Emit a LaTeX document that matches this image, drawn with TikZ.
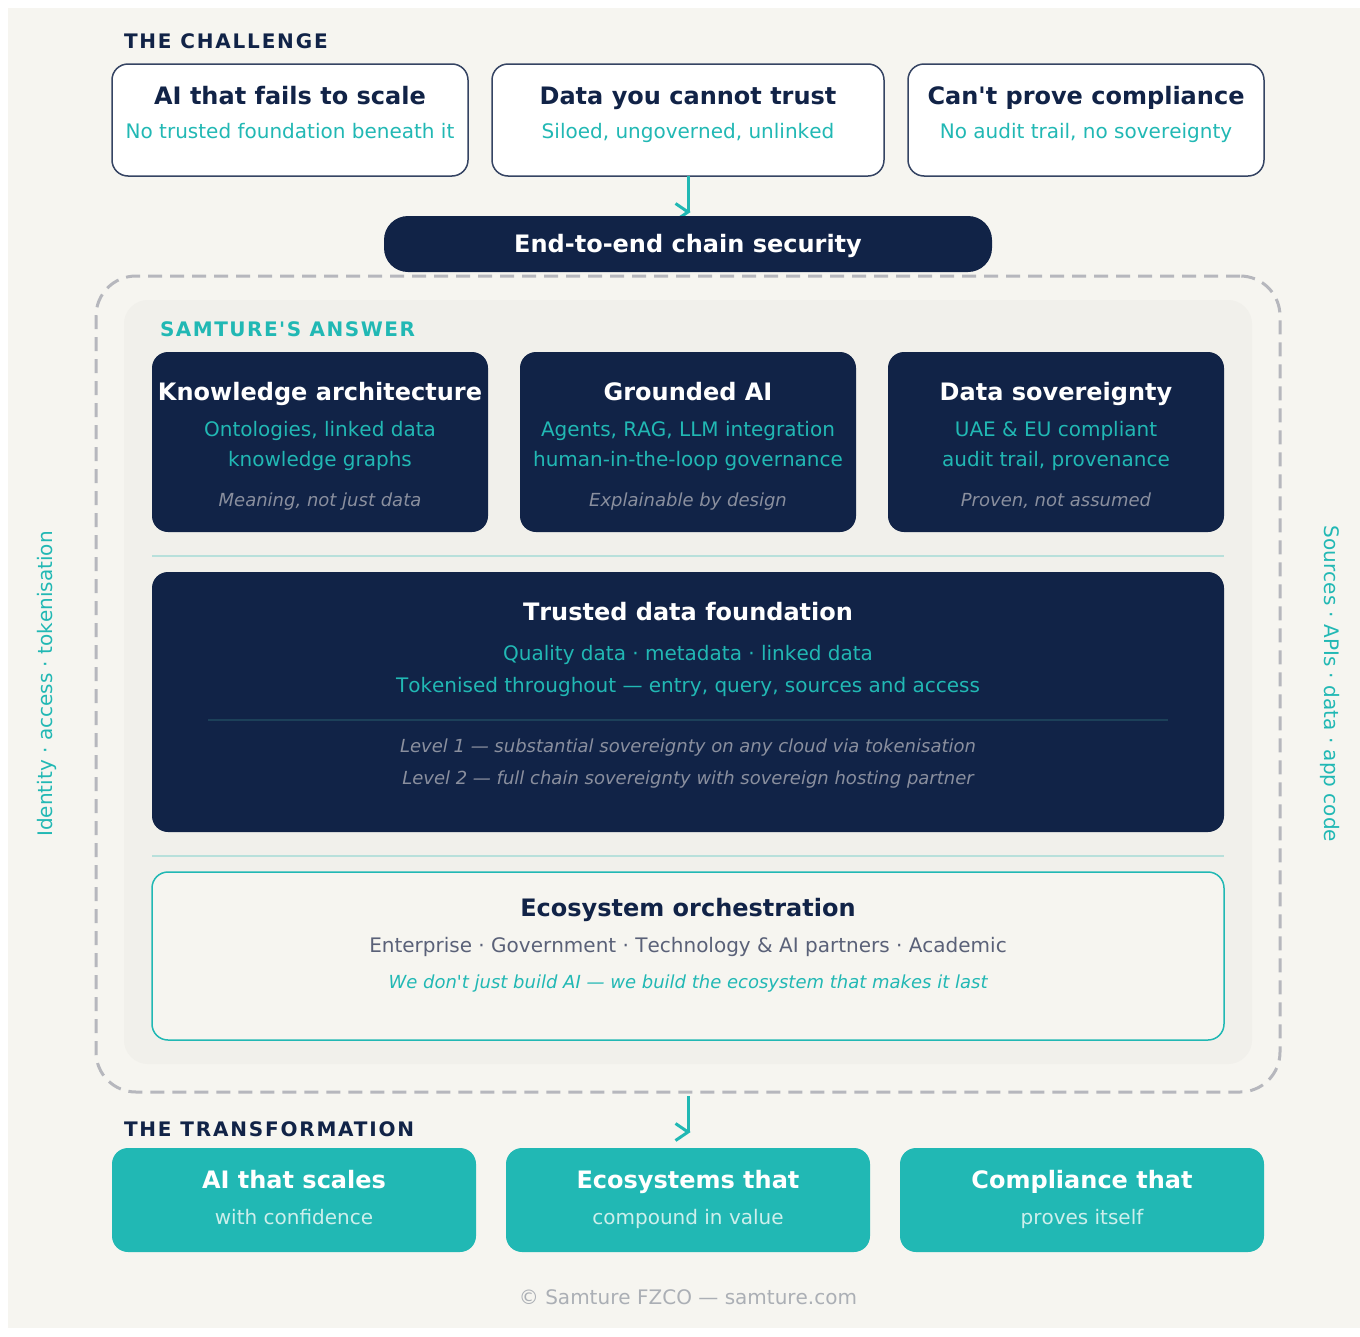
\documentclass[tikz,border=0pt]{standalone}
\usepackage{fontspec}
\setmainfont{DejaVu Sans}
\newfontfamily\plainfont[Kerning=Off]{DejaVu Sans}
\newfontfamily\trackfont[LetterSpace=9]{DejaVu Sans}
\newfontfamily\trackfontb[LetterSpace=7.5]{DejaVu Sans}
\definecolor{navy}{HTML}{112347}
\definecolor{teal2}{HTML}{21B8B4}
\definecolor{paper}{HTML}{F6F5F0}
\definecolor{panel}{HTML}{F1F0EB}
\definecolor{dash}{HTML}{B6B7BD}
\definecolor{mute}{HTML}{8A8F9E}
\definecolor{rulec}{HTML}{B8E0DB}
\definecolor{slate}{HTML}{5A6178}
\definecolor{foot}{HTML}{ABAFB5}
\definecolor{pale}{HTML}{CDEFEC}
\definecolor{innerrule}{HTML}{1C4059}
\tikzset{
  x=1pt,y=-1pt,
  boxbase/.style={inner sep=0pt,outer sep=0pt,rounded corners=16pt},
  lightcard/.style={boxbase,draw=navy!85!white,line width=1.5pt,fill=white},
  darkcard/.style={boxbase,fill=navy},
  tealcard/.style={boxbase,fill=teal2},
  outlinecard/.style={boxbase,draw=teal2,line width=1.5pt,fill=paper},
  txt/.style={inner sep=0pt,outer sep=0pt,anchor=base,font=\plainfont\fontsize{20}{24}\selectfont},
  title/.style={txt,font=\plainfont\fontsize{24}{28}\bfseries\selectfont},
  sub/.style={txt,text=teal2},
  note/.style={txt,text=mute,font=\plainfont\fontsize{18}{22}\itshape\selectfont},
  head/.style={inner sep=0pt,outer sep=0pt,anchor=base west,font=\fontsize{20}{24}\trackfont\bfseries\selectfont},
  headb/.style={head,font=\fontsize{20}{24}\trackfontb\bfseries\selectfont},
  flow/.style={draw=teal2,line width=3pt,line join=miter},
  sep/.style={draw=rulec,line width=1.5pt},
}
\begin{document}
\begin{tikzpicture}
\useasboundingbox (0,0) rectangle (1360,1336);
\fill[white] (0,0) rectangle (1360,1336);
\fill[paper] (8,8) rectangle (1360,1328);

\node[head,text=navy] (hchallenge) at (124,48) {THE CHALLENGE};
\node[lightcard,minimum width=356pt,minimum height=112pt] (c1) at (290,120) {};
\node[lightcard,minimum width=392pt,minimum height=112pt] (c2) at (688,120) {};
\node[lightcard,minimum width=356pt,minimum height=112pt] (c3) at (1086,120) {};
\node[title,text=navy] (c1t) at (290,104) {AI that fails to scale};
\node[sub] (c1s) at (290,138) {No trusted foundation beneath it};
\node[title,text=navy] (c2t) at (688,104) {Data you cannot trust};
\node[sub] (c2s) at (688,138) {Siloed, ungoverned, unlinked};
\node[title,text=navy] (c3t) at (1086,104) {Can't prove compliance};
\node[sub] (c3s) at (1086,138) {No audit trail, no sovereignty};

% arrow 1
\coordinate (a1tip) at (688,212);
\coordinate (a1up) at (675.5,203.5);
\coordinate (a1lo) at (675.5,220.5);
\draw[flow] (c2.south) -- (a1tip);
\draw[flow] (a1up) -- (a1tip) -- (a1lo);

\node[boxbase,rounded corners=24pt,fill=navy,minimum width=608pt,minimum height=56pt] (pill) at (688,244) {};
\node[title,text=white] (pillt) at (688,252) {End-to-end chain security};

\node[boxbase,rounded corners=40pt,draw=dash,line width=3pt,dash pattern=on 14pt off 8pt,minimum width=1184pt,minimum height=816pt] (frame) at (688,684) {};
\node[boxbase,rounded corners=24pt,fill=panel,minimum width=1128pt,minimum height=764pt] (answer) at (688,682) {};

\node[headb,text=teal2] (hanswer) at (160,336) {SAMTURE'S ANSWER};

\node[darkcard,minimum width=336pt,minimum height=180pt] (k1) at (320,442) {};
\node[darkcard,minimum width=336pt,minimum height=180pt] (k2) at (688,442) {};
\node[darkcard,minimum width=336pt,minimum height=180pt] (k3) at (1056,442) {};
\node[title,text=white] (k1t) at (320,400) {Knowledge architecture};
\node[sub] (k1a) at (320,436) {Ontologies, linked data};
\node[sub] (k1b) at (320,466) {knowledge graphs};
\node[note] (k1n) at (320,506) {Meaning, not just data};
\node[title,text=white] (k2t) at (688,400) {Grounded AI};
\node[sub] (k2a) at (688,436) {Agents, RAG, LLM integration};
\node[sub] (k2b) at (688,466) {human-in-the-loop governance};
\node[note] (k2n) at (688,506) {Explainable by design};
\node[title,text=white] (k3t) at (1056,400) {Data sovereignty};
\node[sub] (k3a) at (1056,436) {UAE \& EU compliant};
\node[sub] (k3b) at (1056,466) {audit trail, provenance};
\node[note] (k3n) at (1056,506) {Proven, not assumed};

\draw[sep] (152,556) -- (1224,556);

\node[darkcard,minimum width=1072pt,minimum height=260pt] (t) at (688,702) {};
\node[title,text=white] (tt) at (688,620) {Trusted data foundation};
\node[sub] (ta) at (688,660) {Quality data · metadata · linked data};
\node[sub] (tb) at (688,692) {Tokenised throughout — entry, query, sources and access};
\draw[draw=innerrule,line width=1.5pt] (208,720) -- (1168,720);
\node[note] (tc) at (688,752) {Level 1 — substantial sovereignty on any cloud via tokenisation};
\node[note] (td) at (688,784) {Level 2 — full chain sovereignty with sovereign hosting partner};

\draw[sep] (152,856) -- (1224,856);

\node[outlinecard,minimum width=1072pt,minimum height=168pt] (e) at (688,956) {};
\node[title,text=navy] (et) at (688,916) {Ecosystem orchestration};
\node[txt,text=slate] (ea) at (688,952) {Enterprise · Government · Technology \& AI partners · Academic};
\node[note,text=teal2] (eb) at (688,988) {We don't just build AI — we build the ecosystem that makes it last};

% arrow 2
\coordinate (a2start) at (688,1096);
\coordinate (a2tip) at (688,1132);
\coordinate (a2up) at (675.5,1123.5);
\coordinate (a2lo) at (675.5,1140.5);
\draw[flow] (a2start) -- (a2tip);
\draw[flow] (a2up) -- (a2tip) -- (a2lo);

\node[head,text=navy] (htrans) at (124,1136) {THE TRANSFORMATION};
\node[tealcard,minimum width=364pt,minimum height=104pt] (r1) at (294,1200) {};
\node[tealcard,minimum width=364pt,minimum height=104pt] (r2) at (688,1200) {};
\node[tealcard,minimum width=364pt,minimum height=104pt] (r3) at (1082,1200) {};
\node[title,text=white] (r1t) at (294,1188) {AI that scales};
\node[txt,text=pale] (r1s) at (294,1224) {with confidence};
\node[title,text=white] (r2t) at (688,1188) {Ecosystems that};
\node[txt,text=pale] (r2s) at (688,1224) {compound in value};
\node[title,text=white] (r3t) at (1082,1188) {Compliance that};
\node[txt,text=pale] (r3s) at (1082,1224) {proves itself};

\node[txt,text=foot] (foot) at (688,1304) {© Samture FZCO — samture.com};

\node[txt,text=teal2,anchor=center,rotate=90] (left) at (47,684) {Identity · access · tokenisation};
\node[txt,text=teal2,anchor=center,rotate=-90] (right) at (1330,684) {Sources · APIs · data · app code};
\end{tikzpicture}
\end{document}
